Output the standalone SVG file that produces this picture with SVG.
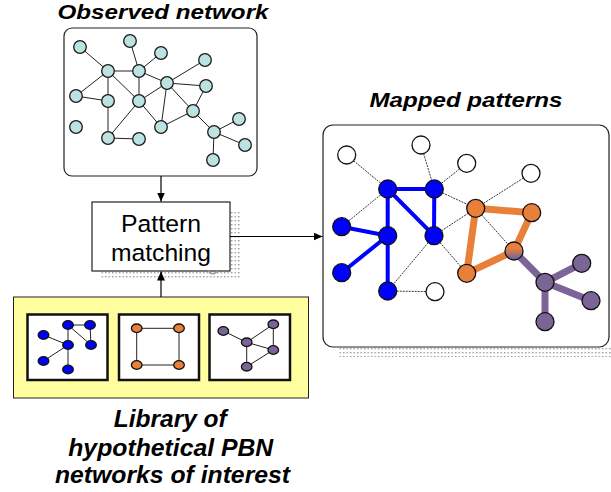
<svg xmlns="http://www.w3.org/2000/svg" width="611" height="492" viewBox="0 0 611 492">
  <defs>
    <style>
      .title { font-family: "Liberation Sans", Arial, sans-serif; font-weight: bold; font-style: italic; fill: #000; }
      .label { font-family: "Liberation Sans", Arial, sans-serif; fill: #000; }
      .box { fill: #fff; stroke: #222; stroke-width: 1.2; }
      .edge { stroke: #222; stroke-width: 1; fill: none; }
      .dot { stroke: #222; stroke-width: 0.9; stroke-dasharray: 2 1; fill: none; }
      .obs { fill: #bde2e2; stroke: #1a1a1a; stroke-width: 1.3; }
      .wn { fill: #fff; stroke: #111; stroke-width: 1.3; }
      .bn { fill: #0000ff; stroke: #111; stroke-width: 1.3; }
      .on { fill: #e8803a; stroke: #111; stroke-width: 1.3; }
      .pn { fill: #7b6496; stroke: #111; stroke-width: 1.3; }
      .be { stroke: #0000ff; stroke-width: 4; fill: none; }
      .oe { stroke: #e8803a; stroke-width: 7; fill: none; }
      .pe { stroke: #7b6496; stroke-width: 7; fill: none; }
      .lib { fill: #fff; stroke: #111; stroke-width: 2.5; }
      .arrow { stroke: #000; stroke-width: 1.2; fill: none; marker-end: url(#head); }
    </style>
    <marker id="head" markerWidth="10" markerHeight="10" refX="9" refY="5" orient="auto" markerUnits="userSpaceOnUse">
      <path d="M0,1 L9,5 L0,9 Z" fill="#000"/>
    </marker>
    <pattern id="dots" width="3.5" height="4" patternUnits="userSpaceOnUse">
      <rect x="0" y="0" width="1.4" height="1.4" fill="#9a9a9a"/>
    </pattern>
    <linearGradient id="mix" x1="0" y1="0" x2="0" y2="1">
      <stop offset="0.35" stop-color="#e8803a"/>
      <stop offset="0.9" stop-color="#7b6496"/>
    </linearGradient>
  </defs>

  <!-- drop shadows -->
  <rect x="230" y="210" width="10" height="69" fill="url(#dots)"/>
  <rect x="100" y="271" width="130" height="8" fill="url(#dots)"/>
  <rect x="338" y="347" width="273" height="10" fill="url(#dots)"/>

  <!-- titles -->
  <text class="title" x="163" y="19" font-size="21" text-anchor="middle" textLength="211" lengthAdjust="spacingAndGlyphs">Observed network</text>
  <text class="title" x="466" y="107" font-size="21" text-anchor="middle" textLength="193" lengthAdjust="spacingAndGlyphs">Mapped patterns</text>

  <!-- observed network -->
  <g id="observed-network">
    <rect class="box" x="64" y="28" width="193" height="148" rx="8"/>
    <g class="edges">
      <line class="edge" x1="80" y1="47" x2="108" y2="71"/>
      <line class="edge" x1="130" y1="41" x2="139" y2="71"/>
      <line class="edge" x1="161" y1="53" x2="139" y2="71"/>
      <line class="edge" x1="108" y1="71" x2="139" y2="71"/>
      <line class="edge" x1="108" y1="71" x2="76" y2="96"/>
      <line class="edge" x1="108" y1="71" x2="108" y2="101"/>
      <line class="edge" x1="108" y1="71" x2="139" y2="101"/>
      <line class="edge" x1="139" y1="71" x2="139" y2="101"/>
      <line class="edge" x1="139" y1="71" x2="167" y2="83"/>
      <line class="edge" x1="167" y1="83" x2="205" y2="60"/>
      <line class="edge" x1="167" y1="83" x2="206" y2="86"/>
      <line class="edge" x1="167" y1="83" x2="139" y2="101"/>
      <line class="edge" x1="167" y1="83" x2="161" y2="127"/>
      <line class="edge" x1="167" y1="83" x2="193" y2="111"/>
      <line class="edge" x1="139" y1="101" x2="161" y2="127"/>
      <line class="edge" x1="139" y1="101" x2="108" y2="138"/>
      <line class="edge" x1="76" y1="96" x2="108" y2="101"/>
      <line class="edge" x1="108" y1="101" x2="108" y2="138"/>
      <line class="edge" x1="108" y1="138" x2="139" y2="139"/>
      <line class="edge" x1="161" y1="127" x2="193" y2="111"/>
      <line class="edge" x1="193" y1="111" x2="206" y2="86"/>
      <line class="edge" x1="193" y1="111" x2="214" y2="132"/>
      <line class="edge" x1="214" y1="132" x2="239" y2="119"/>
      <line class="edge" x1="214" y1="132" x2="245" y2="145"/>
      <line class="edge" x1="214" y1="132" x2="213" y2="160"/>
    </g>
    <g class="nodes">
      <circle class="obs" cx="80" cy="47" r="6.3"/>
      <circle class="obs" cx="130" cy="41" r="6.3"/>
      <circle class="obs" cx="161" cy="53" r="6.3"/>
      <circle class="obs" cx="205" cy="60" r="6.3"/>
      <circle class="obs" cx="108" cy="71" r="6.3"/>
      <circle class="obs" cx="139" cy="71" r="6.3"/>
      <circle class="obs" cx="167" cy="83" r="6.3"/>
      <circle class="obs" cx="206" cy="86" r="6.3"/>
      <circle class="obs" cx="76" cy="96" r="6.3"/>
      <circle class="obs" cx="108" cy="101" r="6.3"/>
      <circle class="obs" cx="139" cy="101" r="6.3"/>
      <circle class="obs" cx="193" cy="111" r="6.3"/>
      <circle class="obs" cx="76" cy="127" r="6.3"/>
      <circle class="obs" cx="161" cy="127" r="6.3"/>
      <circle class="obs" cx="239" cy="119" r="6.3"/>
      <circle class="obs" cx="214" cy="132" r="6.3"/>
      <circle class="obs" cx="108" cy="138" r="6.3"/>
      <circle class="obs" cx="139" cy="139" r="6.3"/>
      <circle class="obs" cx="245" cy="145" r="6.3"/>
      <circle class="obs" cx="213" cy="160" r="6.3"/>
    </g>
  </g>

  <!-- pattern matching step -->
  <g id="pattern-matching">
    <rect x="92" y="202" width="138" height="69" fill="#fff" stroke="#222" stroke-width="1.2"/>
    <text class="label" x="161" y="231.5" font-size="24.5" text-anchor="middle" textLength="80" lengthAdjust="spacingAndGlyphs">Pattern</text>
    <text class="label" x="161" y="260.5" font-size="24.5" text-anchor="middle" textLength="100" lengthAdjust="spacingAndGlyphs">matching</text>
  </g>
  <path d="M208.5,270.5 A4.5,4.5 0 0 0 217,271" fill="none" stroke="#9a9a9a" stroke-width="1.2"/>

  <!-- library of hypothetical networks -->
  <g id="library">
    <rect x="13.5" y="297" width="295" height="101" fill="#ffffa0" stroke="#222" stroke-width="1"/>
    <g id="lib-blue">
      <rect class="lib" x="27.5" y="314.5" width="80" height="65.5"/>
      <g class="edges">
        <line class="edge" x1="68" y1="325" x2="90" y2="325"/>
        <line class="edge" x1="68" y1="325" x2="91" y2="345"/>
        <line class="edge" x1="90" y1="325" x2="91" y2="345"/>
        <line class="edge" x1="68" y1="325" x2="68" y2="369"/>
        <line class="edge" x1="68" y1="345" x2="43.5" y2="335"/>
        <line class="edge" x1="68" y1="345" x2="43.5" y2="361"/>
      </g>
      <ellipse class="bn" cx="68" cy="325" rx="5.3" ry="4.3"/>
      <ellipse class="bn" cx="90" cy="325" rx="5.3" ry="4.3"/>
      <ellipse class="bn" cx="43.5" cy="335" rx="5.3" ry="4.3"/>
      <ellipse class="bn" cx="68" cy="345" rx="5.3" ry="4.3"/>
      <ellipse class="bn" cx="91" cy="345" rx="5.3" ry="4.3"/>
      <ellipse class="bn" cx="43.5" cy="361" rx="5.3" ry="4.3"/>
      <ellipse class="bn" cx="68" cy="369.5" rx="5.3" ry="4.3"/>
    </g>
    <g id="lib-orange">
      <rect class="lib" x="119" y="314.5" width="80" height="65.5"/>
      <rect x="136.7" y="328.3" width="42.3" height="36.7" fill="none" stroke="#222" stroke-width="1"/>
      <ellipse class="on" cx="136.7" cy="328.3" rx="5.3" ry="4.3"/>
      <ellipse class="on" cx="179" cy="328.3" rx="5.3" ry="4.3"/>
      <ellipse class="on" cx="136.7" cy="365" rx="5.3" ry="4.3"/>
      <ellipse class="on" cx="179" cy="365" rx="5.3" ry="4.3"/>
    </g>
    <g id="lib-purple">
      <rect class="lib" x="209.5" y="314.5" width="80.5" height="65.5"/>
      <g class="edges">
        <line class="edge" x1="223.3" y1="331" x2="246.7" y2="342.3"/>
        <line class="edge" x1="246.7" y1="342.3" x2="273.3" y2="324.3"/>
        <line class="edge" x1="273.3" y1="324.3" x2="273.3" y2="350"/>
        <line class="edge" x1="246.7" y1="342.3" x2="273.3" y2="350"/>
        <line class="edge" x1="246.7" y1="342.3" x2="246.7" y2="366.7"/>
        <line class="edge" x1="246.7" y1="366.7" x2="273.3" y2="350"/>
      </g>
      <ellipse class="pn" cx="223.3" cy="331" rx="5.3" ry="4.3"/>
      <ellipse class="pn" cx="273.3" cy="324.3" rx="5.3" ry="4.3"/>
      <ellipse class="pn" cx="246.7" cy="342.3" rx="5.3" ry="4.3"/>
      <ellipse class="pn" cx="273.3" cy="350" rx="5.3" ry="4.3"/>
      <ellipse class="pn" cx="246.7" cy="366.7" rx="5.3" ry="4.3"/>
    </g>
  </g>
  <text class="title" font-size="23.5" text-anchor="middle">
    <tspan x="173.5" y="426.5" textLength="113" lengthAdjust="spacingAndGlyphs">Library of</tspan>
    <tspan x="174" y="455.5" textLength="205" lengthAdjust="spacingAndGlyphs">hypothetical PBN</tspan>
    <tspan x="172.5" y="483" textLength="235" lengthAdjust="spacingAndGlyphs">networks of interest</tspan>
  </text>

  <!-- mapped patterns -->
  <g id="mapped-patterns">
    <rect class="box" x="323" y="125" width="286" height="222" rx="10"/>
    <g class="edges">
      <line class="dot" x1="346.7" y1="155" x2="387.7" y2="189"/>
      <line class="dot" x1="421" y1="145" x2="434.3" y2="189"/>
      <line class="dot" x1="466.7" y1="163.3" x2="434.3" y2="189"/>
      <line class="dot" x1="531" y1="173.3" x2="475.7" y2="208.3"/>
      <line class="dot" x1="387.7" y1="189" x2="341.7" y2="226.7"/>
      <line class="dot" x1="434.3" y1="189" x2="475.7" y2="208.3"/>
      <line class="dot" x1="434" y1="235.7" x2="475.7" y2="208.3"/>
      <line class="dot" x1="434" y1="235.7" x2="387.7" y2="291"/>
      <line class="dot" x1="434" y1="235.7" x2="466.7" y2="273.3"/>
      <line class="dot" x1="387.7" y1="291" x2="435" y2="291.7"/>
      <line class="dot" x1="475.7" y1="208.3" x2="514" y2="251"/>

      <line class="be" x1="387.7" y1="189" x2="434.3" y2="189"/>
      <line class="be" x1="387.7" y1="189" x2="387.7" y2="291"/>
      <line class="be" x1="387.7" y1="189" x2="434" y2="235.7"/>
      <line class="be" x1="434.3" y1="189" x2="434" y2="235.7"/>
      <line class="be" x1="387.7" y1="235.7" x2="341.7" y2="226.7"/>
      <line class="be" x1="387.7" y1="235.7" x2="341.7" y2="272.7"/>

      <line class="oe" x1="475.7" y1="208.3" x2="531.7" y2="212.7"/>
      <line class="oe" x1="475.7" y1="208.3" x2="466.7" y2="273.3"/>
      <line class="oe" x1="531.7" y1="212.7" x2="514" y2="251"/>
      <line class="oe" x1="466.7" y1="273.3" x2="514" y2="251"/>

      <line class="pe" x1="514" y1="251" x2="545" y2="282.3"/>
      <line class="pe" x1="545" y1="282.3" x2="581.7" y2="263.3"/>
      <line class="pe" x1="545" y1="282.3" x2="591" y2="300.7"/>
      <line class="pe" x1="545" y1="282.3" x2="545" y2="321.7"/>
    </g>
    <g class="nodes">
      <circle class="wn" cx="346.7" cy="155" r="9"/>
      <circle class="wn" cx="421" cy="145" r="9"/>
      <circle class="wn" cx="466.7" cy="163.3" r="9"/>
      <circle class="wn" cx="531" cy="173.3" r="9"/>
      <circle class="wn" cx="435" cy="291.7" r="9"/>
      <circle class="bn" cx="387.7" cy="189" r="9"/>
      <circle class="bn" cx="434.3" cy="189" r="9"/>
      <circle class="bn" cx="341.7" cy="226.7" r="9"/>
      <circle class="bn" cx="387.7" cy="235.7" r="9"/>
      <circle class="bn" cx="434" cy="235.7" r="9"/>
      <circle class="bn" cx="341.7" cy="272.7" r="9"/>
      <circle class="bn" cx="387.7" cy="291" r="9"/>
      <circle class="on" cx="475.7" cy="208.3" r="9"/>
      <circle class="on" cx="531.7" cy="212.7" r="9"/>
      <circle class="on" cx="466.7" cy="273.3" r="9"/>
      <circle cx="514" cy="251" r="9" fill="url(#mix)" stroke="#111" stroke-width="1.3"/>
      <circle class="pn" cx="545" cy="282.3" r="9"/>
      <circle class="pn" cx="581.7" cy="263.3" r="9"/>
      <circle class="pn" cx="591" cy="300.7" r="9"/>
      <circle class="pn" cx="545" cy="321.7" r="9"/>
    </g>
  </g>

  <!-- connectors -->
  <g id="connectors">
    <line class="arrow" x1="161" y1="176" x2="161" y2="201.5"/>
    <line class="arrow" x1="161" y1="297" x2="161" y2="271.5"/>
    <line class="arrow" x1="230" y1="236.5" x2="322.5" y2="236.5"/>
  </g>
</svg>
